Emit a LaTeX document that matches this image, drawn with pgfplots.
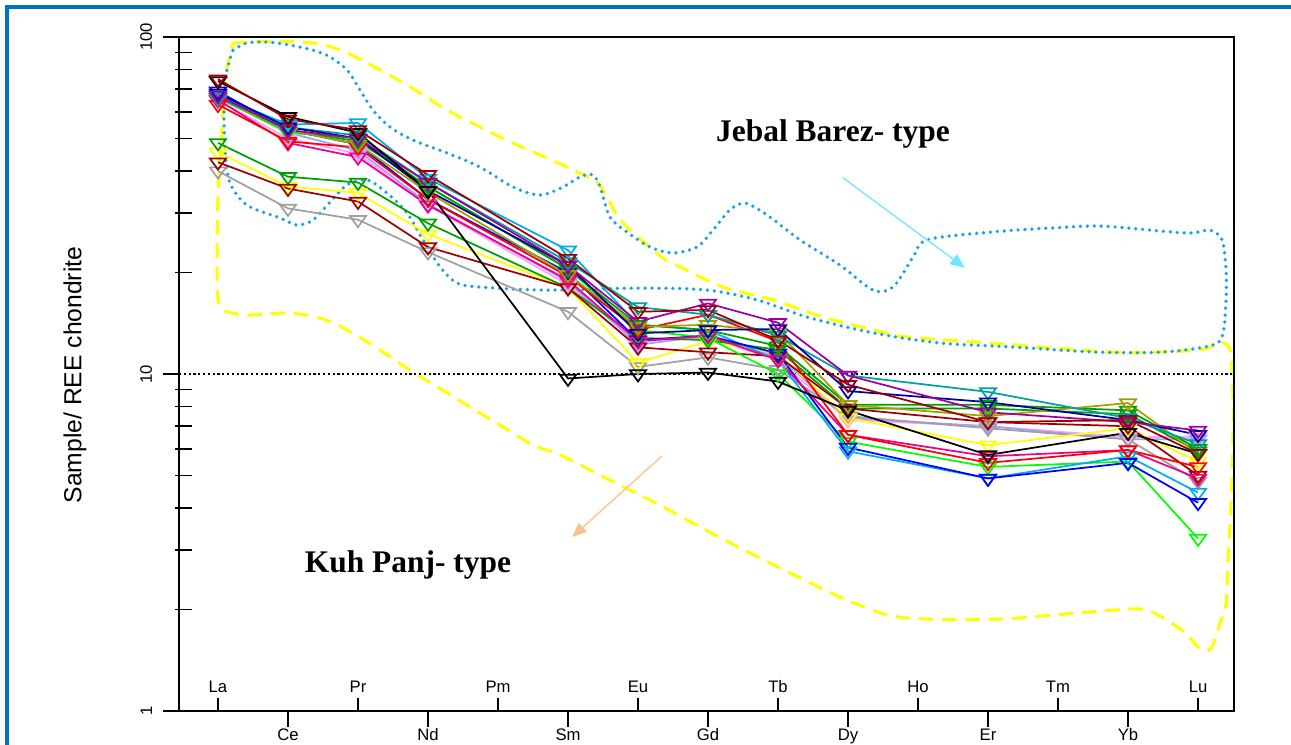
\documentclass[border=0pt]{standalone}
\usepackage{fontspec}
\setmainfont{Liberation Sans}
\newfontfamily\serifb{Liberation Serif}
\usepackage{pgfplots}
\usepackage{pgfplotstable}
\pgfplotsset{compat=1.18}
\usetikzlibrary{arrows.meta}

\definecolor{frameblue}{HTML}{0070C0}
\definecolor{cdarkred}{HTML}{A00000}
\definecolor{cdarkblue}{HTML}{0000A0}
\definecolor{cteal}{HTML}{00A0A0}
\definecolor{cpurple}{HTML}{A000A0}
\definecolor{cgreen}{HTML}{00A000}
\definecolor{clime}{HTML}{00FF00}
\definecolor{colive}{HTML}{A0A000}
\definecolor{cpink}{HTML}{FFA0FF}
\definecolor{clblue}{HTML}{A0A0FF}
\definecolor{cgray}{HTML}{A0A0A0}
\definecolor{cyellow}{HTML}{FFFF00}
\definecolor{envblue}{HTML}{1EA0E6}
\definecolor{envyellow}{HTML}{FFFF00}
\definecolor{arrcyan}{HTML}{70E8FF}
\definecolor{arrorange}{HTML}{FFC090}

\pgfplotstableread{
x   s1   s2   s3   s4   s5   s6   s7   s8   s9   s10  s11  s12  s13  s14  s15  s16  s17  s18
0   74   75   69   68   66   67   63   65   66   66   67   66   65   68   48.5 45.5 42.5 40
1   58   57   53   54   54   53   49   48.5 53   52   55   53   50   52   38.5 36   35.5 31
2   52   53   48   50   51   50   47   44   49   50   55.6 48   45   46   37   34.5 32.5 28.7
3   35   39   33   35   37   37   33   31.7 36   36   38   34.6 31.7 32   28   26   23.8 23
5   9.7  22   20   21   21.5 21   19.5 19   20.5 20.5 23.3 19.7 18.4 18.8 18   18   18   15.3
6   10.0 15.3 12.6 13.2 15.8 14.3 13.5 12.5 14   13.5 14   13.8 12.5 12.2 12.8 10.8 12   10.5
7   10.1 15.5 13   13.5 15.0 16.2 15.0 13   13.5 12.8 13.5 14   12.8 13   12.6 12.5 11.6 11.2
8   9.5  12.6 11.5 13.6 13.0 14.2 12.5 11   12.1 10   11   13.3 11   11.3 11.8 11.5 11.3 10.3
9   7.8  9.3  6.05 8.9  9.9  9.9  6.6  6.6  8.1  6.3  5.9  8.1  7.3  7.4  7.9  7.4  7.9  7.5
11  5.75 7.2  4.9  8.25 8.85 7.7  5.45 5.7  8.1  5.3  4.9  7.5  7.0  7.0  7.9  6.15 7.2  6.9
13  6.7  7.3  5.45 7.3  7.4  7.2  5.95 5.95 7.8  5.5  5.7  8.2  6.5  6.4  7.6  6.9  7.0  6.4
14  5.8  5.8  4.15 6.6  6.2  6.8  5.3  4.9  6.0  3.25 4.45 5.8  6.5  6.4  5.9  5.5  5.0  4.8
}\ree

\pgfplotsset{
  ree/.style={color=#1, line width=1.3pt, mark=triangle, mark size=7pt,
    mark options={yscale=-0.8, solid, fill=none}},
  frame/.style={at={(134.25pt,24.75pt)}, anchor=south west,
    width=791.25pt, height=505.5pt, scale only axis, xmin=-0.557, xmax=14.514},
}

\begin{document}
\begin{tikzpicture}
\path[use as bounding box] (0,0) rectangle (968.25pt,558pt);
\draw[frameblue, line width=2.6pt] (5.25pt,-5pt) -- (5.25pt,552.75pt) -- (975pt,552.75pt);

% envelopes (axis in log10 units)
\begin{axis}[frame, ymin=0, ymax=2, axis lines=none]
\addplot[envyellow, line width=2.3pt, dash pattern=on 11pt off 6.5pt, smooth, tension=0.5] coordinates {
(0.214,1.982) (0.886,1.988) (1.457,1.979) (1.843,1.953) (2.129,1.923) (2.5,1.881)
(2.886,1.834) (3.271,1.783) (3.743,1.733) (4.214,1.685) (4.7,1.641) (5.171,1.596)
(5.414,1.570) (5.557,1.525) (5.786,1.448) (6.357,1.344) (6.6,1.318) (7.214,1.258)
(7.929,1.220) (8.643,1.169) (9.357,1.131) (9.843,1.110) (11.029,1.092) (12.786,1.065)
(13.986,1.071) (14.314,1.092) (14.457,1.071) (14.5,0.923) (14.486,0.685) (14.429,0.448)
(14.4,0.318) (14.314,0.261) (14.214,0.196) (14.129,0.178) (14.014,0.187) (13.771,0.240)
(13.343,0.294) (13.071,0.303) (12.271,0.291) (11.186,0.273) (10.114,0.273) (9.571,0.285)
(8.986,0.329) (8.314,0.395) (7.6,0.469) (6.886,0.546) (6.171,0.626) (5.457,0.700)
(4.886,0.760) (4.5,0.789) (4.214,0.825) (3.743,0.884) (3.271,0.944) (2.786,1.006)
(2.314,1.071) (1.843,1.131) (1.457,1.166) (0.986,1.181) (0.414,1.175) (0.071,1.190)
(0,1.228) (-0.014,1.329) (0,1.525) (0.057,1.724) (0.1,1.872) (0.214,1.982)
};
\addplot[envblue, line width=2.8pt, dash pattern=on 0pt off 5.2pt, line cap=round, smooth, tension=0.5] coordinates {
(0.214,1.961) (0.414,1.982) (0.7,1.985) (1.029,1.976) (1.357,1.961) (1.6,1.941)
(1.843,1.902) (2.029,1.843) (2.214,1.783) (2.457,1.733) (2.786,1.694) (3.271,1.656)
(3.743,1.614) (4.214,1.555) (4.6,1.531) (4.929,1.555) (5.171,1.585) (5.357,1.591)
(5.457,1.555) (5.6,1.466) (5.843,1.421) (6.171,1.377) (6.5,1.359) (6.843,1.377)
(7.071,1.427) (7.314,1.487) (7.529,1.507) (7.843,1.472) (8.314,1.398) (8.886,1.323)
(9.357,1.249) (9.643,1.258) (9.929,1.347) (10.129,1.398) (11.029,1.421) (11.886,1.433)
(12.6,1.439) (13.314,1.427) (13.886,1.418) (14.171,1.427) (14.343,1.398) (14.4,1.309)
(14.4,1.220) (14.357,1.122) (14.214,1.086) (13.5,1.065) (12.557,1.065) (11.357,1.080)
(10.314,1.092) (9.357,1.122) (8.414,1.169) (7.7,1.220) (6.986,1.249) (6.029,1.255)
(4.7,1.249) (3.743,1.258) (3.414,1.270) (3.171,1.318) (2.929,1.398) (2.7,1.478)
(2.414,1.537) (2.129,1.576) (1.843,1.561) (1.6,1.510) (1.357,1.457) (1.129,1.442)
(0.886,1.463) (0.414,1.501) (0.171,1.567) (0.1,1.665) (0.086,1.813) (0.129,1.902)
(0.214,1.961)
};
\draw[arrcyan, line width=1pt, -{Triangle[length=11pt,width=9pt]}] (axis cs:8.929,1.582) -- (axis cs:10.671,1.315);
\draw[arrorange, line width=1pt, -{Triangle[length=11pt,width=9pt]}] (axis cs:6.343,0.757) -- (axis cs:5.057,0.516);
\node[font=\serifb\bfseries\fontsize{23.6}{28}\selectfont] at (axis cs:8.786,1.712) {Jebal Barez- type};
\node[font=\serifb\bfseries\fontsize{23.6}{28}\selectfont] at (axis cs:2.714,0.433) {Kuh Panj- type};
\end{axis}

% y minor ticks, inside
\begin{axis}[frame, ymode=log, ymin=1, ymax=100,
  axis line style={draw=none},
  every tick/.style={black, line width=1.2pt},
  tick align=inside, ytick pos=left,
  xtick=\empty, major tick length=10pt,
  ytick={2,3,4,5,6,7,8,9,20,30,40,50,60,70,80,90},
  yticklabels={},
]
\end{axis}

% y decade ticks, outside, with labels
\begin{axis}[frame, ymode=log, ymin=1, ymax=100,
  axis line style={draw=none},
  every tick/.style={black, line width=1.2pt},
  tick align=outside, ytick pos=left,
  xtick=\empty, major tick length=12pt,
  ytick={1,10,100},
  yticklabels={1,10,100},
  yticklabel style={rotate=90, anchor=south, inner sep=0pt, font=\fontsize{12.5}{15}\selectfont},
  yticklabel shift=8pt,
]
\end{axis}

\begin{axis}[frame,
  ymode=log, ymin=1, ymax=100,
  axis line style={line width=1.5pt},
  every tick/.style={black, line width=1.2pt},
  tick align=inside,
  xtick pos=bottom, ytick=\empty,
  major tick length=10pt,
  tick label style={font=\fontsize{12.5}{15}\selectfont},
  xtick={0,2,4,6,8,10,12,14},
  xticklabels={La,Pr,Pm,Eu,Tb,Ho,Tm,Lu},
  xticklabel style={anchor=south, inner sep=0pt, yshift=13.5pt},
  extra x ticks={1,3,5,7,9,11,13},
  extra x tick labels={Ce,Nd,Sm,Gd,Dy,Er,Yb},
  extra x tick style={major tick length=-12pt, xticklabel style={anchor=north, yshift=-26.5pt}},
]
\addplot[black, line width=1.1pt, dash pattern=on 1.6pt off 2pt, forget plot] coordinates {(-0.557,10) (14.514,10)};
\addplot[ree=cpink]     table[x=x,y=s13] {\ree};
\addplot[ree=clblue]    table[x=x,y=s14] {\ree};
\addplot[ree=cgray]     table[x=x,y=s18] {\ree};
\addplot[ree=cyellow]   table[x=x,y=s16] {\ree};
\addplot[ree=cgreen]    table[x=x,y=s15] {\ree};
\addplot[ree=cdarkred]  table[x=x,y=s17] {\ree};
\addplot[ree=clime]     table[x=x,y=s10] {\ree};
\addplot[ree=cyan]      table[x=x,y=s11] {\ree};
\addplot[ree=blue]      table[x=x,y=s3] {\ree};
\addplot[ree=magenta]   table[x=x,y=s8] {\ree};
\addplot[ree=red]       table[x=x,y=s7] {\ree};
\addplot[ree=cgreen]    table[x=x,y=s9] {\ree};
\addplot[ree=colive]    table[x=x,y=s12] {\ree};
\addplot[ree=cteal]     table[x=x,y=s5] {\ree};
\addplot[ree=cdarkblue] table[x=x,y=s4] {\ree};
\addplot[ree=cpurple]   table[x=x,y=s6] {\ree};
\addplot[ree=black]     table[x=x,y=s1] {\ree};
\addplot[ree=cdarkred]  table[x=x,y=s2] {\ree};
\end{axis}

\node[rotate=90, font=\fontsize{18.5}{22}\selectfont] at (56.25pt,276.75pt) {Sample/ REE chondrite};
\end{tikzpicture}
\end{document}
